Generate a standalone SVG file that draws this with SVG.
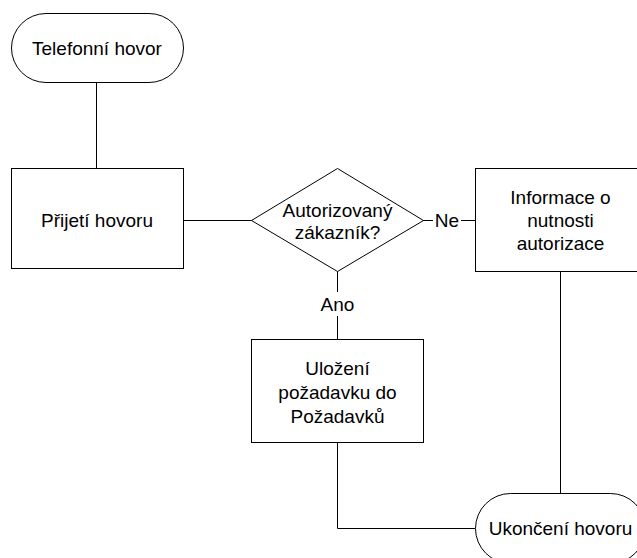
<svg xmlns="http://www.w3.org/2000/svg" width="637" height="558" viewBox="0 0 637 558">
<style>
.s{fill:#fff;stroke:#000;stroke-width:1}
.c{fill:none;stroke:#000;stroke-width:1}
text{font-family:"Liberation Sans",Arial,sans-serif;font-size:19px;fill:#000;text-anchor:middle}
</style>
<rect width="637" height="558" fill="#fff"/>
<g id="connectors">
<path class="c" d="M96.5 83V168" stroke="#666"/>
<path class="c" d="M183 220.5H252"/>
<path class="c" d="M423 220.5H433M461 220.5H475"/>
<path class="c" d="M337.5 271V292M337.5 316V339"/>
<path class="c" d="M560.5 271V493"/>
<path class="c" d="M337.5 443V528.5H475"/>
<text x="447" y="227">Ne</text>
<text x="337.5" y="311">Ano</text>
</g>
<g id="telefonni">
<rect class="s" x="11.5" y="13.5" width="172" height="69" rx="34.5"/>
<text x="97" y="55">Telefonní hovor</text>
</g>
<g id="prijeti">
<rect class="s" x="11.5" y="168.5" width="172" height="100"/>
<text x="97" y="227">Přijetí hovoru</text>
</g>
<g id="autorizovany">
<polygon class="s" points="337.5,168.5 423.5,220.5 337.5,271.5 251.5,220.5"/>
<text x="337.5" y="217">Autorizovaný</text>
<text x="337.5" y="239">zákazník?</text>
</g>
<g id="informace">
<rect class="s" x="475.5" y="168.5" width="170" height="103"/>
<text x="560.5" y="204">Informace o</text>
<text x="560.5" y="227">nutnosti</text>
<text x="560.5" y="250">autorizace</text>
</g>
<g id="ulozeni">
<rect class="s" x="251.5" y="339.5" width="172" height="103"/>
<text x="337.5" y="375">Uložení</text>
<text x="337.5" y="399">požadavku do</text>
<text x="337.5" y="423">Požadavků</text>
</g>
<g id="ukonceni">
<rect class="s" x="475.5" y="493.5" width="170" height="70" rx="35"/>
<text x="560.5" y="535">Ukončení hovoru</text>
</g>
</svg>
